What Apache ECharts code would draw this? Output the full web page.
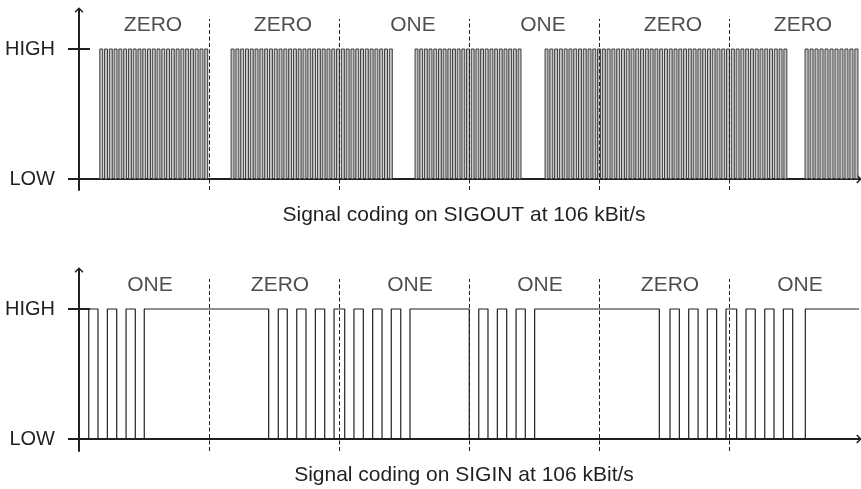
<!DOCTYPE html>
<html><head><meta charset="utf-8">
<script src="https://cdn.jsdelivr.net/npm/echarts@6/dist/echarts.min.js"></script>
<style>html,body{margin:0;padding:0;background:#fff}#c{width:861px;height:489px}</style>
</head><body><div id="c"></div>
<script>
// ---- data (x in bit periods, y: 0 = LOW, 1 = HIGH) ----
const bitLabelsTop = ['ZERO', 'ZERO', 'ONE', 'ONE', 'ZERO', 'ZERO'];
const bitLabelsBottom = ['ONE', 'ZERO', 'ONE', 'ONE', 'ZERO', 'ONE'];
const bitBoundaries = [1, 2, 3, 4, 5];
const levelValues = [0, 1];
const levelLabels = ['LOW', 'HIGH'];
// SIGOUT: carrier bursts (start, end, number of carrier pulses)
const burstStart = [0.16, 1.17, 2.585, 3.585, 5.585];
const burstEnd = [0.99, 2.41, 3.40, 5.445, 5.992];
const burstPulses = [23, 34, 23, 51, 11];
// SIGIN: level toggle positions, starting LOW
const siginEdges = [0.075, 0.146, 0.218, 0.290, 0.362, 0.433, 0.502,
  1.459, 1.533, 1.602, 1.675, 1.746, 1.818, 1.890, 1.962, 2.044, 2.115, 2.187, 2.259, 2.331, 2.402, 2.475, 2.546,
  3.002, 3.075, 3.146, 3.218, 3.290, 3.362, 3.433, 3.505,
  4.464, 4.546, 4.618, 4.690, 4.762, 4.833, 4.905, 4.977, 5.059, 5.131, 5.202, 5.275, 5.346, 5.418, 5.490, 5.587];
const siginStartLevel = 0;
const siginRange = [0, 6];
const captions = ['Signal coding on SIGOUT at 106 kBit/s', 'Signal coding on SIGIN at 106 kBit/s'];

// ---- styling ----
const INK = '#231f20';
const FONT = '"Liberation Sans", Arial, Helvetica, sans-serif';
const arrowPath = 'path://M5,0 L10,5 L8.8,6.2 L5.8,3.2 L5.8,6.2 L4.2,6.2 L4.2,3.2 L1.2,6.2 L0,5 Z';
const LABEL_LEVEL = 1.18;
const DASH_TOP = 1.231;
const yMin = [-0.0846, -0.0923];
const yMax = 1.3;

const siginPoints = [[siginRange[0], siginStartLevel]];
let lvl = siginStartLevel;
siginEdges.forEach(x => { siginPoints.push([x, lvl]); lvl = 1 - lvl; siginPoints.push([x, lvl]); });
siginPoints.push([siginRange[1], lvl]);

function xAxisCfg(gi) {
  return { gridIndex: gi, type: 'value', min: siginRange[0], max: siginRange[1],
    axisLine: { onZero: true, lineStyle: { color: INK, width: 2 }, symbol: ['none', arrowPath], symbolSize: [9, 7] },
    axisTick: { show: false }, axisLabel: { show: false }, splitLine: { show: false } };
}
function yAxisMain(gi) {
  return { gridIndex: gi, type: 'value', position: 'left', min: yMin[gi], max: yMax,
    axisLine: { show: true, onZero: false, lineStyle: { color: INK, width: 2 }, symbol: ['none', arrowPath], symbolSize: [9, 7] },
    axisTick: { show: true, length: 11, customValues: levelValues, lineStyle: { color: INK, width: 2 } },
    axisLabel: { show: true, customValues: levelValues, margin: 24, fontSize: 20, fontFamily: FONT, color: INK,
      formatter: v => levelLabels[levelValues.indexOf(v)] },
    splitLine: { show: false } };
}
function yAxisInner(gi) {
  return { gridIndex: gi, type: 'value', position: 'left', min: yMin[gi], max: yMax,
    axisLine: { show: false, onZero: false },
    axisTick: { show: true, inside: true, length: 11, customValues: [levelValues[1]], lineStyle: { color: INK, width: 2 } },
    axisLabel: { show: false }, splitLine: { show: false } };
}
function labelSeries(gi, labels, dx) {
  return { type: 'scatter', xAxisIndex: gi, yAxisIndex: gi * 2, symbolSize: 1, silent: true,
    itemStyle: { color: 'rgba(0,0,0,0)' },
    label: { show: true, position: 'inside', formatter: '{b}', fontSize: 21, fontFamily: FONT, color: INK, offset: [dx, 0] },
    data: labels.map((t, i) => ({ name: t, value: [i + 0.5, LABEL_LEVEL] })),
    markLine: { silent: true, symbol: ['none', 'none'], label: { show: false },
      lineStyle: { type: [4, 2.5], color: INK, width: 1 },
      data: bitBoundaries.map(b => [{ coord: [b, yMin[gi]] }, { coord: [b, DASH_TOP] }]) } };
}
function renderBurst(params, api) {
  const s = api.value(0), e = api.value(1), n = api.value(2);
  const p0 = api.coord([s, 0]), p1 = api.coord([e, 1]);
  const duty = 0.62;
  const period = (p1[0] - p0[0]) / (n - 1 + duty);
  const w = period * duty;
  const children = [];
  for (let k = 0; k < n; k++) {
    children.push({ type: 'rect', shape: { x: p0[0] + k * period, y: p1[1], width: w, height: p0[1] - p1[1] },
      style: { fill: '#c4c4c4', stroke: '#2a2a2a', lineWidth: 0.9 } });
  }
  return { type: 'group', children };
}

const chart = echarts.init(document.getElementById('c'), null, { renderer: 'canvas' });
chart.setOption({
  animation: false,
  backgroundColor: '#fff',
  grid: [{ left: 79, right: 2, top: 10, bottom: 299 }, { left: 79, right: 2, top: 270, bottom: 38 }],
  xAxis: [xAxisCfg(0), xAxisCfg(1)],
  yAxis: [yAxisMain(0), yAxisInner(0), yAxisMain(1), yAxisInner(1)],
  series: [
    { type: 'custom', xAxisIndex: 0, yAxisIndex: 0, renderItem: renderBurst, silent: true,
      dimensions: ['start', 'end', 'pulses'], encode: { x: ['start', 'end'] },
      data: burstStart.map((s, i) => [s, burstEnd[i], burstPulses[i]]) },
    labelSeries(0, bitLabelsTop, 9),
    { type: 'line', xAxisIndex: 1, yAxisIndex: 2, data: siginPoints, showSymbol: false, silent: true,
      lineStyle: { color: INK, width: 1.2 } },
    labelSeries(1, bitLabelsBottom, 6)
  ],
  graphic: captions.map((t, i) => ({ type: 'text', x: 464, y: i === 0 ? 215 : 475, silent: true,
    style: { text: t, font: '21px ' + FONT, fill: INK, align: 'center', verticalAlign: 'middle' } }))
});
</script></body></html>
